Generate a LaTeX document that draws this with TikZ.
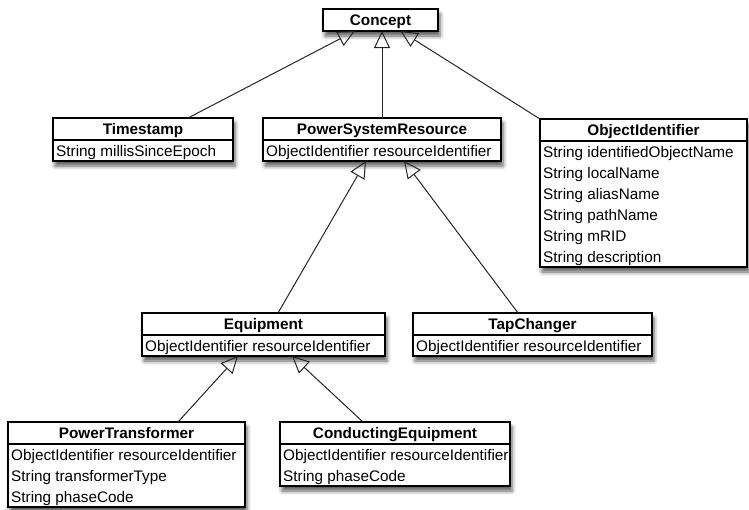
\documentclass[tikz,border=0pt]{standalone}
\usepackage{fontspec}
\setmainfont{Liberation Sans}
\usetikzlibrary{arrows.meta,shadows.blur}

% One class box: name, left, top, width, title, number of attributes, attribute list
\newcommand{\UMLclass}[7]{%
  \node[classbox, minimum width=#4pt, minimum height={22pt+21pt*#6}, anchor=north west] (#1) at (#2,#3) {};
  \node[classtitle] (#1-title) at ([yshift=-11pt]#1.north) {#5};
  \ifnum#6>0
    \draw[classline] ([yshift=-22pt]#1.north west) -- ([yshift=-22pt]#1.north east);
    \foreach \a [count=\i] in {#7} {
      \node[classattr] (#1-attr\i) at ([xshift=3pt, yshift={-32.5pt-21pt*(\i-1)}]#1.north west) {\a};
    }
  \fi
}

\tikzset{
  classbox/.style={draw=black, line width=1.1pt, fill=white, inner sep=0pt, outer sep=0pt,
    blur shadow={shadow xshift=2pt, shadow yshift=-5pt, shadow blur radius=4pt, shadow opacity=65}},
  classline/.style={draw=black, line width=1.1pt},
  classtitle/.style={inner sep=0pt, font=\fontsize{15.3}{18}\selectfont\bfseries, text height=11pt, text depth=0pt},
  classattr/.style={anchor=west, inner sep=0pt, font=\fontsize{15.3}{18}\selectfont, text height=11pt, text depth=0pt},
  inherits/.style={draw=black!85, line width=1pt,
    -{Triangle[open, length=17pt, width=16pt, line width=1pt]}},
}

\begin{document}
\begin{tikzpicture}[x=1pt, y=-1pt]
\useasboundingbox (0,0) rectangle (749,509);

\UMLclass{concept}{323}{9}{115}{Concept}{0}{}
\UMLclass{ts}{53}{118}{180}{Timestamp}{1}{String millisSinceEpoch}
\UMLclass{psr}{263}{118}{238}{PowerSystemResource}{1}{ObjectIdentifier resourceIdentifier}
\UMLclass{oi}{540}{119}{207}{ObjectIdentifier}{6}{String identifiedObjectName, String localName, String aliasName, String pathName, String mRID, String description}
\UMLclass{eq}{142}{313}{243}{Equipment}{1}{ObjectIdentifier resourceIdentifier}
\UMLclass{tc}{413}{313}{239}{TapChanger}{1}{ObjectIdentifier resourceIdentifier}
\UMLclass{pt}{8}{422}{237}{PowerTransformer}{3}{ObjectIdentifier resourceIdentifier, String transformerType, String phaseCode}
\UMLclass{ce}{280}{422}{230}{ConductingEquipment}{2}{ObjectIdentifier resourceIdentifier, String phaseCode}

% generalisation links
\draw[inherits] ([xshift=45pt]ts.north) -- ([xshift=-25.5pt]concept.south);
\draw[inherits] (psr.north) -- (psr.north |- concept.south);
\draw[inherits] (oi.north west) -- ([xshift=20pt]concept.south);
\draw[inherits] ([xshift=14.5pt]eq.north) -- ([xshift=-16pt]psr.south);
\draw[inherits] ([xshift=-14.5pt]tc.north) -- ([xshift=22pt]psr.south);
\draw[inherits] ([xshift=51.5pt]pt.north) -- ([xshift=-25.5pt]eq.south);
\draw[inherits] ([xshift=-32pt]ce.north) -- ([xshift=28.5pt]eq.south);
\end{tikzpicture}
\end{document}
